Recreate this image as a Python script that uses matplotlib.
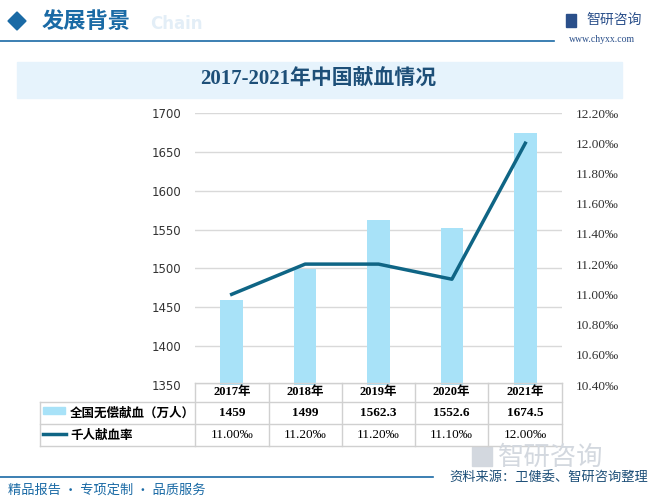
import matplotlib
matplotlib.use("Agg")
import matplotlib.pyplot as plt
from matplotlib.patches import Rectangle, Polygon
from matplotlib.lines import Line2D

# data
years = ["2017年", "2018年", "2019年", "2020年", "2021年"]
donors = [1459, 1499, 1562.3, 1552.6, 1674.5]          # 万人
rate = [11.00, 11.20, 11.20, 11.10, 12.00]             # ‰
donor_labels = ["1459", "1499", "1562.3", "1552.6", "1674.5"]
rate_labels = ["11.00‰", "11.20‰", "11.20‰", "11.10‰", "12.00‰"]
series_names = ["全国无偿献血（万人）", "千人献血率"]
left_ticks = [1350, 1400, 1450, 1500, 1550, 1600, 1650, 1700]
right_ticks = [10.4, 10.6, 10.8, 11.0, 11.2, 11.4, 11.6, 11.8, 12.0, 12.2]

CJK = ["Noto Sans CJK SC", "DejaVu Sans"]
SERIF = ["Liberation Serif", "Noto Sans CJK SC"]
plt.rcParams["font.family"] = CJK

W, H = 653, 500
BAR_C = "#a8e2f8"
LINE_C = "#0f6585"
BLUE = "#1a6aa5"

fig = plt.figure(figsize=(W / 100, H / 100), dpi=100)


# pixel helpers (origin top-left)
def fx(x):
    return x / W


def fy(y):
    return 1 - y / H


# header
fig.patches.append(Polygon([[fx(8), fy(21)], [fx(17), fy(12)], [fx(26), fy(21)], [fx(17), fy(30)]],
                           closed=True, transform=fig.transFigure, color=BLUE))
fig.text(fx(150), fy(24), "Chain", fontsize=12, fontweight="bold", color="#e3eef7",
         ha="left", va="center", family="DejaVu Sans")
fig.text(fx(42), fy(21), "发展背景", fontsize=16, fontweight="bold", color=BLUE, ha="left", va="center")
fig.lines.append(Line2D([0, fx(554)], [fy(41), fy(41)], transform=fig.transFigure, color=BLUE, lw=1.2))
fig.patches.append(Rectangle((fx(566), fy(27)), 10 / W, 13 / H, transform=fig.transFigure, color="#2a4f8a"))
fig.text(fx(586), fy(20), "智研咨询", fontsize=10, color="#2a4f8a", ha="left", va="center")
fig.text(fx(602), fy(40), "www.chyxx.com", fontsize=7, color="#2a4f8a", ha="center", va="center",
         family="Liberation Serif")

# title box
fig.patches.append(Rectangle((fx(17), fy(98)), 605 / W, 36 / H, transform=fig.transFigure,
                             color="#e6f3fc", zorder=1))
fig.text(fx(318), fy(80), "2017-2021年中国献血情况", fontsize=15, fontweight="bold", color="#1d4f78",
         ha="center", va="center", family=SERIF, zorder=2)

# main axes
ax_l, ax_r, ax_t, ax_b = 195, 562, 113, 385
ax = fig.add_axes([fx(ax_l), fy(ax_b), (ax_r - ax_l) / W, (ax_b - ax_t) / H])
ax.patch.set_alpha(0)
x = list(range(len(years)))
ax.bar(x, donors, width=0.31, color=BAR_C, zorder=2)
ax.set_xlim(-0.5, len(years) - 0.5)
ax.set_ylim(left_ticks[0], left_ticks[-1])
ax.set_yticks(left_ticks)
ax.set_yticklabels([str(t) for t in left_ticks], fontsize=8.5, family="DejaVu Sans", color="#333333")
ax.grid(axis="y", color="#d9d9d9", lw=1, zorder=0)
ax.set_xticks([])
for s in ax.spines.values():
    s.set_visible(False)
ax.tick_params(axis="y", length=0, pad=10)

ax2 = ax.twinx()
ax2.plot(x, rate, color=LINE_C, lw=2.5, zorder=3)
ax2.set_ylim(right_ticks[0], right_ticks[-1])
ax2.set_yticks(right_ticks)
ax2.set_yticklabels(["%.2f‰" % t for t in right_ticks], fontsize=9.5, family=SERIF, color="#333333")
ax2.tick_params(axis="y", length=0, pad=10)
for s in ax2.spines.values():
    s.set_visible(False)

# data table below the axes
cols = [195, 269, 342, 415, 488, 562]
rows = [383, 402, 424, 446]
tkw = dict(transform=fig.transFigure, color="#d0d0d0", lw=1)
# horizontal lines
fig.lines.append(Line2D([fx(195), fx(562)], [fy(rows[0]), fy(rows[0])], **tkw))
for r in rows[1:]:
    fig.lines.append(Line2D([fx(40), fx(562)], [fy(r), fy(r)], **tkw))
# vertical lines
fig.lines.append(Line2D([fx(40), fx(40)], [fy(rows[1]), fy(rows[3])], **tkw))
for c in cols:
    fig.lines.append(Line2D([fx(c), fx(c)], [fy(rows[0]), fy(rows[3])], **tkw))

for i, c in enumerate(cols[:-1]):
    cx = (c + cols[i + 1]) / 2
    fig.text(fx(cx), fy((rows[0] + rows[1]) / 2), years[i], fontsize=9, fontweight="bold",
             ha="center", va="center", family=SERIF)
    fig.text(fx(cx), fy((rows[1] + rows[2]) / 2), donor_labels[i], fontsize=9.5, fontweight="bold",
             ha="center", va="center", family=SERIF)
    fig.text(fx(cx), fy((rows[2] + rows[3]) / 2), rate_labels[i], fontsize=9.5,
             ha="center", va="center", family=SERIF)

# legend keys in the table
fig.patches.append(Rectangle((fx(43), fy(414)), 22 / W, 7 / H, transform=fig.transFigure, color=BAR_C))
fig.lines.append(Line2D([fx(43), fx(66)], [fy(434), fy(434)], transform=fig.transFigure, color=LINE_C, lw=2.5))
fig.text(fx(70), fy(413), series_names[0], fontsize=9, fontweight="bold", ha="left", va="center")
fig.text(fx(70), fy(435), series_names[1], fontsize=9, fontweight="bold", ha="left", va="center")

# footer
fig.patches.append(Rectangle((fx(472), fy(466)), 20 / W, 19 / H, transform=fig.transFigure, color="#d3d8df"))
fig.text(fx(498), fy(457), "智研咨询", fontsize=19, color="#d3d8df", ha="left", va="center")
fig.lines.append(Line2D([0, fx(433)], [fy(477), fy(477)], transform=fig.transFigure, color=BLUE, lw=1.2))
fig.text(fx(648), fy(477), "资料来源：卫健委、智研咨询整理", fontsize=9.5, color="#1d4f78", ha="right", va="center",
         zorder=3)
fig.text(fx(8), fy(490), "精品报告 · 专项定制 · 品质服务", fontsize=9.5, color=BLUE, ha="left", va="center")

fig.savefig("out.png", dpi=100)
